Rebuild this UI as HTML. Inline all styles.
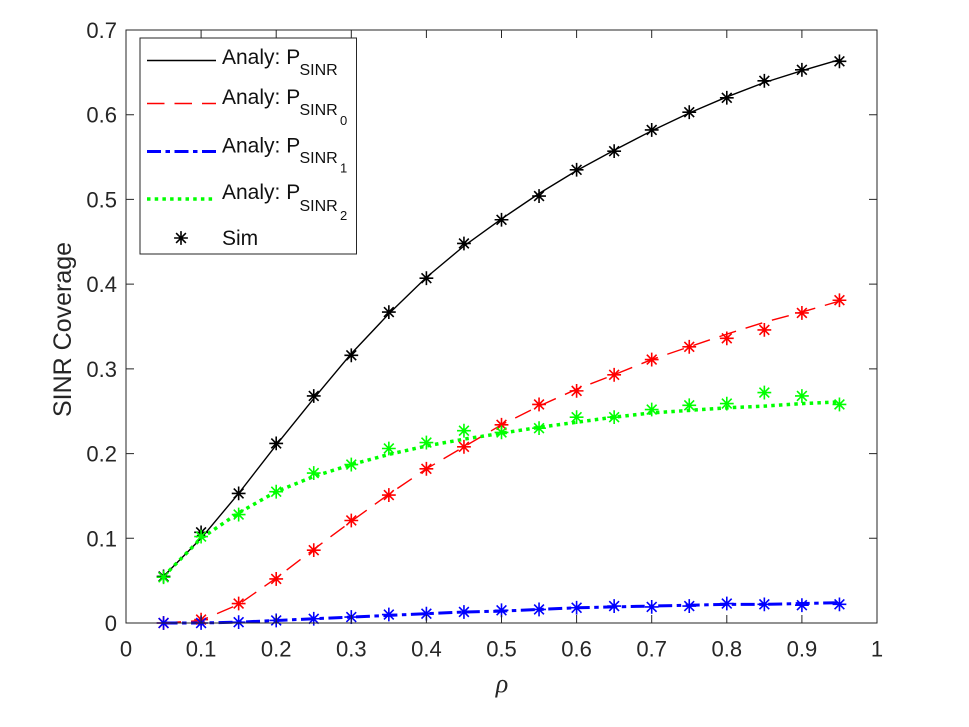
<!DOCTYPE html>
<html lang="en">
<head>
<meta charset="utf-8">
<title>SINR Coverage</title>
<style>
html,body{margin:0;padding:0;background:#fff;}
svg{display:block;font-family:"Liberation Sans",sans-serif;}
</style>
</head>
<body>
<svg id="chart" width="969" height="727" viewBox="0 0 969 727" xmlns="http://www.w3.org/2000/svg">
  <rect x="0" y="0" width="969" height="727" fill="#fff"/>
  <g id="series"></g>
  <g id="axes"></g>
  <g id="legend">
    <rect x="140" y="38" width="216.5" height="216" fill="#fff" stroke="#262626" stroke-width="1"/>
    <g>
      <line x1="147" y1="60.5" x2="216" y2="60.5" stroke="#000" stroke-width="1.4"/>
      <text x="222" y="64" font-size="21" fill="#111">Analy: P</text>
      <text x="299.5" y="75" font-size="16" fill="#111">SINR</text>
    </g>
    <g>
      <line x1="147" y1="103.5" x2="216" y2="103.5" stroke="#ff0000" stroke-width="1.4" stroke-dasharray="17.5 10"/>
      <text x="222" y="104" font-size="21" fill="#111">Analy: P</text>
      <text x="299.5" y="115" font-size="16" fill="#111">SINR</text>
      <text x="340" y="125" font-size="13" fill="#111">0</text>
    </g>
    <g>
      <line x1="147" y1="151.5" x2="216" y2="151.5" stroke="#0000ff" stroke-width="3" stroke-dasharray="14 4.5 4.5 4.5"/>
      <text x="222" y="152.5" font-size="21" fill="#111">Analy: P</text>
      <text x="299.5" y="163" font-size="16" fill="#111">SINR</text>
      <text x="340" y="172.5" font-size="13" fill="#111">1</text>
    </g>
    <g>
      <line x1="147" y1="199" x2="216" y2="199" stroke="#00ff00" stroke-width="3.5" stroke-dasharray="3.5 4.2"/>
      <text x="222" y="199" font-size="21" fill="#111">Analy: P</text>
      <text x="299.5" y="211" font-size="16" fill="#111">SINR</text>
      <text x="340" y="220" font-size="13" fill="#111">2</text>
    </g>
    <g>
      <g id="legend-star"></g>
      <text x="222" y="245" font-size="21" fill="#111">Sim</text>
    </g>
  </g>
</svg>
<script>
var rhoValues = [0.05,0.10,0.15,0.20,0.25,0.30,0.35,0.40,0.45,0.50,0.55,0.60,0.65,0.70,0.75,0.80,0.85,0.90,0.95];

var analyTotal = [0.055,0.100,0.153,0.210,0.265,0.318,0.365,0.408,0.445,0.477,0.507,0.534,0.558,0.581,0.602,0.621,0.638,0.652,0.665];
var analySinr0 = [0.000,0.003,0.022,0.053,0.087,0.120,0.152,0.182,0.208,0.234,0.256,0.276,0.293,0.311,0.326,0.341,0.355,0.367,0.380];
var analySinr1 = [0.000,0.000,0.001,0.003,0.005,0.007,0.009,0.011,0.013,0.014,0.016,0.018,0.019,0.020,0.021,0.022,0.022,0.023,0.024];
var analySinr2 = [0.055,0.100,0.130,0.155,0.173,0.187,0.199,0.209,0.217,0.224,0.231,0.237,0.243,0.248,0.251,0.254,0.256,0.259,0.261];

var simTotal = [0.055,0.107,0.153,0.212,0.268,0.316,0.367,0.407,0.448,0.476,0.504,0.535,0.557,0.582,0.603,0.620,0.640,0.653,0.663];
var simSinr0 = [0.000,0.004,0.023,0.052,0.086,0.121,0.151,0.182,0.208,0.234,0.258,0.274,0.293,0.311,0.326,0.336,0.346,0.366,0.381];
var simSinr1 = [0.000,0.000,0.001,0.003,0.005,0.007,0.010,0.011,0.013,0.015,0.016,0.018,0.020,0.019,0.020,0.023,0.022,0.021,0.022];
var simSinr2 = [0.054,0.102,0.128,0.155,0.177,0.187,0.206,0.213,0.227,0.225,0.230,0.243,0.243,0.252,0.257,0.259,0.272,0.268,0.258];

var xTickLabels = ["0","0.1","0.2","0.3","0.4","0.5","0.6","0.7","0.8","0.9","1"];
var yTickLabels = ["0","0.1","0.2","0.3","0.4","0.5","0.6","0.7"];

var NS = "http://www.w3.org/2000/svg";
var plotLeft = 126, plotRight = 877, plotTop = 30, plotBottom = 623;
var xMax = 1, yMax = 0.7;

function xScale(v) { return plotLeft + (v / xMax) * (plotRight - plotLeft); }
function yScale(v) { return plotBottom - (v / yMax) * (plotBottom - plotTop); }

function make(tag, attrs, parent) {
  var el = document.createElementNS(NS, tag);
  for (var k in attrs) { el.setAttribute(k, attrs[k]); }
  parent.appendChild(el);
  return el;
}

function drawLine(values, color, width, dash, name, parent) {
  var pts = values.map(function (v, i) {
    return xScale(rhoValues[i]).toFixed(2) + "," + yScale(v).toFixed(2);
  }).join(" ");
  var el = make("polyline", {
    points: pts, fill: "none", stroke: color,
    "stroke-width": width, "stroke-dasharray": dash, "stroke-linejoin": "round"
  }, parent);
  
  
}

function drawStar(cx, cy, color, parent, name) {
  var r = 6.9;
  var d = "";
  [0, 45, 90, 135].forEach(function (deg) {
    var a = deg * Math.PI / 180;
    var dx = r * Math.cos(a), dy = r * Math.sin(a);
    d += "M" + (cx - dx).toFixed(2) + " " + (cy - dy).toFixed(2) +
         "L" + (cx + dx).toFixed(2) + " " + (cy + dy).toFixed(2);
  });
  var el = make("path", { d: d, stroke: color, "stroke-width": 1.6, fill: "none" }, parent);
  
  
}

function drawSim(values, color, seriesName, parent) {
  values.forEach(function (v, i) {
    drawStar(xScale(rhoValues[i]), yScale(v), color, parent, seriesName + "-point");
  });
}

var seriesG = document.getElementById("series");
drawLine(analyTotal, "#000000", 1.4, "none", "line-analy-sinr", seriesG);
drawLine(analySinr0, "#ff0000", 1.4, "17.5 10", "line-analy-sinr0", seriesG);
drawLine(analySinr1, "#0000ff", 3, "14 4.5 4.5 4.5", "line-analy-sinr1", seriesG);
drawLine(analySinr2, "#00ff00", 3.5, "3.5 4.2", "line-analy-sinr2", seriesG);
drawSim(simTotal, "#000000", "sim-sinr", seriesG);
drawSim(simSinr0, "#ff0000", "sim-sinr0", seriesG);
drawSim(simSinr1, "#0000ff", "sim-sinr1", seriesG);
drawSim(simSinr2, "#00ff00", "sim-sinr2", seriesG);

var axesG = document.getElementById("axes");
var frame = make("rect", {
  x: plotLeft, y: plotTop, width: plotRight - plotLeft, height: plotBottom - plotTop,
  fill: "none", stroke: "#262626", "stroke-width": 1
}, axesG);



xTickLabels.forEach(function (label) {
  var x = xScale(parseFloat(label));
  var t1 = make("path", {
    d: "M" + x + " " + plotBottom + "V" + (plotBottom - 8) + "M" + x + " " + plotTop + "V" + (plotTop + 8),
    stroke: "#262626", "stroke-width": 1, fill: "none"
  }, axesG);
  
  
  var t = make("text", { x: x, y: 656.5, "font-size": 22, fill: "#262626", "text-anchor": "middle" }, axesG);
  t.textContent = label;
  
  
});

yTickLabels.forEach(function (label) {
  var y = yScale(parseFloat(label));
  var t1 = make("path", {
    d: "M" + plotLeft + " " + y + "H" + (plotLeft + 8) + "M" + plotRight + " " + y + "H" + (plotRight - 8),
    stroke: "#262626", "stroke-width": 1, fill: "none"
  }, axesG);
  
  
  var t = make("text", { x: 117, y: y + 8, "font-size": 22, fill: "#262626", "text-anchor": "end" }, axesG);
  t.textContent = label;
  
  
});

var yTitle = make("text", {
  x: 0, y: 0, "font-size": 25, fill: "#262626", "text-anchor": "middle",
  transform: "translate(71 329.5) rotate(-90)"
}, axesG);
yTitle.textContent = "SINR Coverage";



var xTitle = make("text", {
  x: 502, y: 692, "font-size": 26, fill: "#262626", "text-anchor": "middle",
  "font-style": "italic", style: 'font-family:"Liberation Serif",serif'
}, axesG);
xTitle.textContent = "\u03C1";



drawStar(181, 238, "#000000", document.getElementById("legend-star"), "legend-star-glyph");
</script>
</body>
</html>
